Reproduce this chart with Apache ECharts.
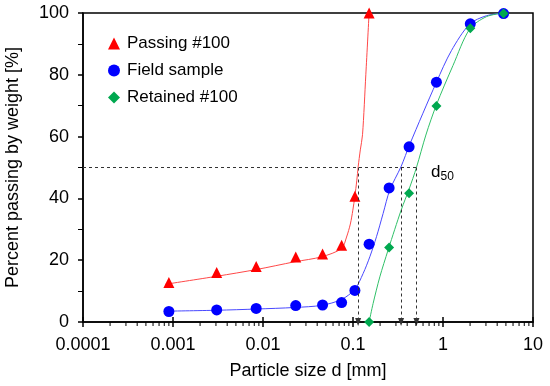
<!DOCTYPE html>
<html>
<head>
<meta charset="utf-8">
<script src="https://cdn.jsdelivr.net/npm/echarts@6/dist/echarts.min.js"></script>
<style>
html,body{margin:0;padding:0;background:#fff;}
#c{width:550px;height:386px;}
</style>
</head>
<body>
<div id="c"></div>
<script>
// measured points
var passingX = [0.0009, 0.00306, 0.0084, 0.0231, 0.0459, 0.0747, 0.105, 0.151];
var passingY = [12.8, 16.0, 18.0, 21.0, 22.0, 24.8, 40.7, 100];
var fieldX = [0.0009, 0.00306, 0.0084, 0.0231, 0.0459, 0.0747, 0.105, 0.151, 0.252, 0.42, 0.845, 2.01, 4.71];
var fieldY = [3.4, 3.9, 4.4, 5.3, 5.5, 6.3, 10.2, 25.2, 43.4, 56.7, 77.6, 96.5, 99.8];
var retainedX = [0.151, 0.252, 0.42, 0.845, 2.01, 4.71];
var retainedY = [0, 24.1, 41.7, 69.9, 95.1, 99.8];
// fitted curves
var passingCurveX = [0.00082, 0.00306, 0.00851, 0.0226, 0.0448, 0.0747, 0.0848, 0.0934, 0.0996, 0.1048, 0.1103, 0.1141, 0.1206, 0.1276, 0.1388, 0.151];
var passingCurveY = [12.2, 14.8, 17.0, 19.5, 21.1, 23.8, 27.5, 31.7, 36.2, 40.6, 45.9, 50.2, 55.7, 60.6, 80.0, 100];
var fieldCurveX = [0.00082, 0.00306, 0.00851, 0.0226, 0.0448, 0.0747, 0.1048, 0.1296, 0.1538, 0.1824, 0.216, 0.2563, 0.342, 0.4272, 0.845, 1.239, 1.979, 3.03, 4.71];
var fieldCurveY = [3.5, 3.8, 4.2, 4.7, 5.4, 7.3, 10.6, 15.7, 21.1, 27.6, 35.1, 42.7, 50.3, 57.5, 77.6, 87.8, 96.4, 99.1, 100];
var retainedCurveX = [0.151, 0.1673, 0.1986, 0.2455, 0.2912, 0.3456, 0.42, 0.507, 0.645, 0.845, 1.291, 1.979, 3.03, 4.71];
var retainedCurveY = [0, 6.0, 14.6, 23.3, 30.0, 36.5, 43.0, 50.0, 60.5, 70.3, 83.0, 94.8, 98.8, 100];
// d50 markers
var d50X = [0.114, 0.342, 0.507];
var d50Level = 50;
// axis
var xMin = 0.0001, xMax = 10;
var xDecades = [0.0001, 0.001, 0.01, 0.1, 1, 10];
var minorMultipliers = [2, 3, 4, 5, 6, 7, 8, 9];

var FONT = 'Liberation Sans, Arial, sans-serif';
function zip(xs, ys) { return xs.map(function (x, i) { return [x, ys[i]]; }); }

var minorTicks = [];
xDecades.slice(0, -1).forEach(function (d) {
  minorMultipliers.forEach(function (m) { minorTicks.push([parseFloat((d * m).toPrecision(6)), 0]); });
});
var majorTicks = xDecades.map(function (d) { return [d, 0]; });

function tickRenderer(len, width) {
  return function (params, api) {
    var p = api.coord([api.value(0), api.value(1)]);
    return {type: 'line', silent: true,
      shape: {x1: p[0], y1: p[1], x2: p[0], y2: p[1] + len},
      style: {stroke: '#000', lineWidth: width}};
  };
}

var markData = [
  [{coord: [xMin, d50Level], symbol: 'none'}, {coord: [d50X[2], d50Level], symbol: 'none'}]
];
d50X.forEach(function (x) {
  markData.push([{coord: [x, d50Level], symbol: 'none'}, {coord: [x, 0], symbol: 'triangle', symbolSize: [6, 8], symbolRotate: 180}]);
});

var chart = echarts.init(document.getElementById('c'), null, {renderer: 'canvas'});
chart.setOption({
  animation: false,
  textStyle: {fontFamily: FONT},
  grid: {left: 83, right: 17, top: 13, bottom: 64, outerBoundsMode: 'none', containLabel: false,
    show: true, borderColor: '#000', borderWidth: 1.5, backgroundColor: 'transparent'},
  legend: {
    data: [
      {name: 'Passing #100', icon: 'triangle'},
      {name: 'Field sample', icon: 'circle'},
      {name: 'Retained #100', icon: 'diamond'}
    ],
    orient: 'vertical', left: 103, top: 30, itemWidth: 12, itemHeight: 12, itemGap: 10,
    textStyle: {fontSize: 17, color: '#000', fontFamily: FONT, lineHeight: 17, padding: [0, 0, 0, 2]}
  },
  xAxis: {
    type: 'log', logBase: 10, min: xMin, max: xMax,
    name: 'Particle size d [mm]', nameLocation: 'middle', nameGap: 40, nameMoveOverlap: false,
    nameTextStyle: {fontSize: 18, color: '#000', fontFamily: FONT},
    axisLine: {onZero: false, lineStyle: {color: '#000', width: 1.5}},
    axisTick: {length: 5, lineStyle: {color: '#000', width: 1.5}},
    axisLabel: {fontSize: 18, color: '#000', margin: 14, fontFamily: FONT,
      formatter: function (v) { return String(parseFloat(Number(v).toPrecision(6))); }},
    splitLine: {show: false}, minorTick: {show: false}
  },
  yAxis: {
    type: 'value', min: 0, max: 100, interval: 20,
    name: 'Percent passing by weight [%]', nameLocation: 'middle', nameGap: 61, nameMoveOverlap: false,
    nameTextStyle: {fontSize: 18, color: '#000', fontFamily: FONT},
    axisLine: {show: true, onZero: false, lineStyle: {color: '#000', width: 1.5}},
    axisTick: {show: true, length: 5, lineStyle: {color: '#000', width: 1.5}},
    minorTick: {show: true, splitNumber: 2, length: 5, lineStyle: {color: '#000', width: 1}},
    axisLabel: {fontSize: 18, color: '#000', margin: 14, fontFamily: FONT},
    splitLine: {show: false}
  },
  series: [
    {
      name: 'minorTicks', type: 'custom', data: minorTicks, clip: false, silent: true, z: 5,
      renderItem: tickRenderer(4, 1)
    },
    {
      name: 'majorTicksInside', type: 'custom', data: majorTicks, clip: false, silent: true, z: 5,
      renderItem: tickRenderer(-5, 1.5)
    },
    {
      name: 'd50', type: 'line', data: [], silent: true,
      markLine: {
        silent: true, animation: false, symbol: ['none', 'none'],
        label: {show: false},
        lineStyle: {color: '#333', type: [3, 3], width: 1},
        emphasis: {disabled: true},
        data: markData
      }
    },
    {
      name: 'passingCurve', type: 'line', data: zip(passingCurveX, passingCurveY),
      smooth: 0.3, showSymbol: false, symbol: 'none', clip: false, silent: true,
      lineStyle: {color: '#FF4848', width: 1}
    },
    {
      name: 'fieldCurve', type: 'line', data: zip(fieldCurveX, fieldCurveY),
      smooth: 0.3, showSymbol: false, symbol: 'none', clip: false, silent: true,
      lineStyle: {color: '#4848FF', width: 1}
    },
    {
      name: 'retainedCurve', type: 'line', data: zip(retainedCurveX, retainedCurveY),
      smooth: 0.3, showSymbol: false, symbol: 'none', clip: false, silent: true,
      lineStyle: {color: '#30C068', width: 1}
    },
    {
      name: 'Passing #100', type: 'scatter', data: zip(passingX, passingY), clip: false,
      symbol: 'triangle', symbolSize: 11, z: 4,
      itemStyle: {color: '#FF0000', opacity: 1}
    },
    {
      name: 'Field sample', type: 'scatter', data: zip(fieldX, fieldY), clip: false,
      symbol: 'circle', symbolSize: 11, z: 4,
      itemStyle: {color: '#0000FF', opacity: 1}
    },
    {
      name: 'Retained #100', type: 'scatter', data: zip(retainedX, retainedY), clip: false,
      symbol: 'diamond', symbolSize: 10, z: 4,
      itemStyle: {color: '#00A84F', opacity: 1}
    }
  ],
  graphic: [
    {type: 'text', left: 431, top: 164, silent: true,
      style: {text: '{d|d}{s|50}', rich: {
        d: {fontSize: 17, fill: '#000', fontFamily: FONT},
        s: {fontSize: 12, fill: '#000', fontFamily: FONT, verticalAlign: 'bottom', padding: [8, 0, 0, 0]}
      }}}
  ]
});
</script>
</body>
</html>
